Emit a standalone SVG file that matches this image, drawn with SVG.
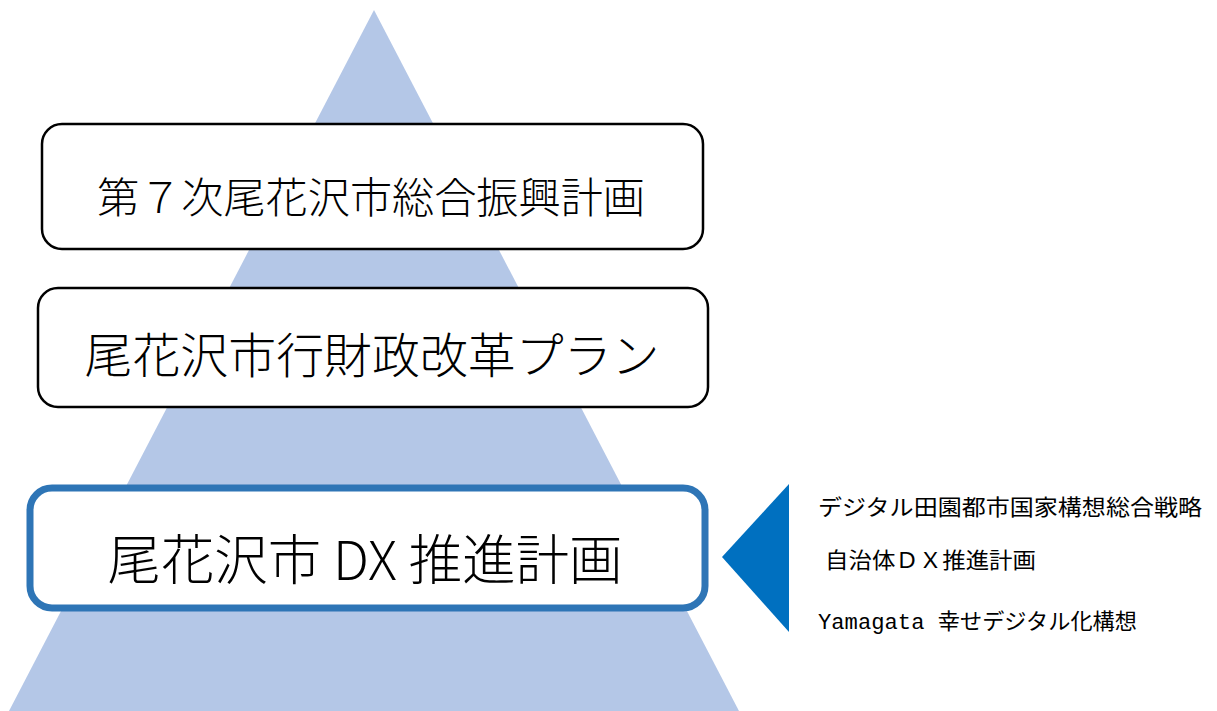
<svg xmlns="http://www.w3.org/2000/svg" width="1217" height="711" viewBox="0 0 1217 711">
<style>
.box{fill:#fff;stroke:#000;stroke-width:2.5}
.dx{fill:#fff;stroke:#2E75B6;stroke-width:7}
.t{font-family:"Noto Sans CJK JP","Noto Sans",sans-serif;fill:#000;text-anchor:middle;dominant-baseline:central;font-weight:300}
.s{font-family:"Liberation Serif","Noto Sans CJK JP",serif;fill:#000;font-size:22px}
.m{font-family:"Liberation Mono",monospace}
</style>
<rect width="1217" height="711" fill="#fff"/>
<g id="pyramid"><polygon points="374,10 739,711 9,711" fill="#B4C7E7"/></g>
<g id="node1">
<rect class="box" x="42" y="124" width="661" height="125" rx="20"/>
<text class="t" x="371" y="194" font-size="42" textLength="548" lengthAdjust="spacingAndGlyphs">第７次尾花沢市総合振興計画</text>
</g>
<g id="node2">
<rect class="box" x="38" y="288" width="670" height="119" rx="20"/>
<text class="t" x="372" y="352" font-size="48" textLength="575" lengthAdjust="spacingAndGlyphs">尾花沢市行財政改革プラン</text>
</g>
<g id="node3">
<rect class="dx" x="30" y="488" width="675" height="120" rx="22"/>
<text class="t" x="365" y="556" font-size="54" textLength="515" lengthAdjust="spacingAndGlyphs">尾花沢市 DX 推進計画</text>
</g>
<g id="connectors">
<polygon points="722,557 789,484 789,632" fill="#0070C0"/>
</g>
<g id="sources">
<text class="s" x="818" y="515" textLength="384" lengthAdjust="spacingAndGlyphs">デジタル田園都市国家構想総合戦略</text>
<text class="s" x="825" y="568" textLength="211" lengthAdjust="spacingAndGlyphs">自治体ＤＸ推進計画</text>
<text class="s" x="818" y="629" textLength="319" lengthAdjust="spacingAndGlyphs"><tspan class="m">Yamagata </tspan>幸せデジタル化構想</text>
</g>
</svg>
